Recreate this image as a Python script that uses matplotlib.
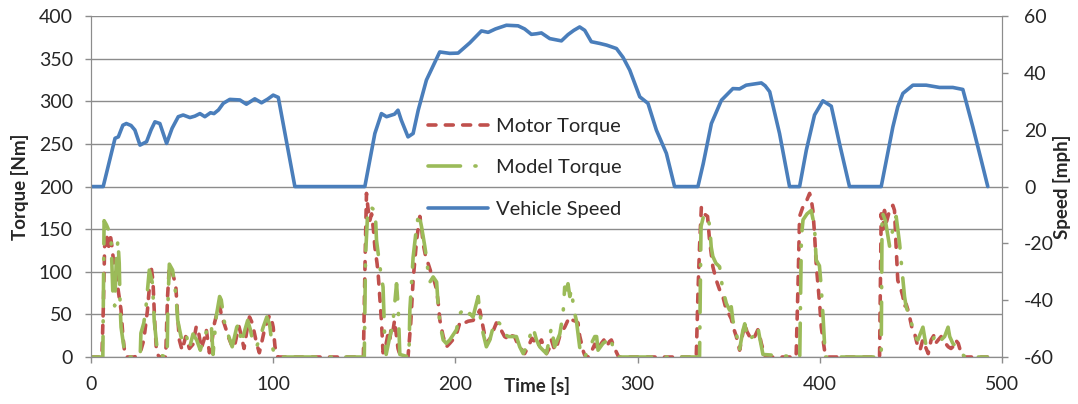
import matplotlib.pyplot as plt

# vehicle speed trace [mph]
speed_t = [0, 6.7, 13.2, 15, 17.5, 19.4, 22, 24.1, 26.9, 30.5, 33, 35.1, 37.8, 41.5, 44.5,
           47.9, 50.6, 54.3, 57, 59.8, 62.5, 65.6, 67.5, 70, 72.6, 76.2, 81.7, 85.3, 89.9,
           93.6, 97, 100, 102.8, 111.9, 150.3, 155.8, 159.4, 162.2, 166.6, 168.5, 170.3,
           174, 176.8, 179.6, 184.1, 191.4, 196.9, 201.5, 207.9, 214.3, 218, 222, 228,
           234.4, 238, 241.7, 244.5, 247.2, 251.8, 258.2, 261.8, 265, 268.2, 271, 274.6,
           279.2, 283, 288.4, 292, 295.7, 301.2, 305.7, 310.3, 315.8, 320.3, 333.1, 336,
           340.5, 346, 352.3, 356, 359.6, 367.9, 370, 372.5, 377.9, 383.4, 388.9, 392.6,
           397.1, 401.7, 406.3, 410.8, 416.3, 433.7, 440.1, 442.8, 445.6, 451.1, 458.4,
           465.7, 473, 478.5, 484, 488.6, 492.2]
speed_mph = [0, 0, 17, 17.5, 21.6, 22.2, 21.5, 19.9, 14.6, 15.8, 20, 22.8, 22.2, 15.2, 20.5,
             24.6, 25.2, 24.3, 24.8, 25.7, 24.6, 26, 25.7, 27, 29.3, 30.7, 30.5, 29, 30.9,
             29.5, 30.8, 32.2, 31.4, 0, 0, 18.7, 25.7, 24.6, 25.5, 26.9, 23.4,
             17.5, 18.7, 26.9, 37.5, 47.4, 46.9, 47, 50.6, 54.8, 54.3, 55.5, 56.8,
             56.6, 55.5, 53.6, 53.8, 54.1, 52.1, 51.3, 53.5, 55, 56.2, 55, 51,
             50.4, 49.8, 48.6, 45.5, 41, 31.6, 29.3, 19.9, 11.7, 0, 0, 8,
             22.2, 30.4, 34.5, 34.4, 35.7, 36.5, 35.5, 33.4, 18.7, 0, 0, 12.8,
             25.2, 30.2, 28.3, 15.2, 0, 0, 21, 28.1, 32.8, 35.7, 35.7,
             34.9, 34.9, 34.2, 21, 9.3, 0]

# measured motor torque [Nm]
motor_t = [0, 6, 6.8, 7.5, 8.5, 9.5, 10.5, 11.5, 12.5, 13.5, 14.5, 15.5, 16.5, 17.5, 18.5, 19.5, 24,
           27, 29, 31, 33, 34, 35, 36, 37.5, 41,
           42, 43, 44.5, 46.5, 47.5, 48.5, 50, 52, 54, 56, 57.8, 59, 60.5, 62, 63.3, 65, 66.5, 67.8,
           69, 70.6, 72, 73, 75.7, 77, 78.5, 80, 81.2, 82.5, 84, 85.5, 87, 88.5, 89.7, 91, 92.4, 94,
           95.2, 96.5, 98, 99, 100, 101, 102.5, 149.5,
           150.5, 151.2, 152, 153, 154, 155, 155.8, 157, 157.6, 158.5, 159.4, 160.3, 161.5, 163,
           164, 164.8, 165.7, 166.6, 167.7, 168.5, 169.5, 171, 174,
           175.5, 176.8, 178.7, 180.5, 181.5, 182.3, 183.5, 185, 186.5, 187.8, 189.7, 190.6, 191.5,
           193.3, 195.1, 196.9, 198.5, 200.6, 202.4, 204.2, 205, 207, 209.7, 211.5, 213.4, 215.2,
           217, 219.8, 221, 222.5, 224, 225.5, 227, 228.5, 229.8, 231, 232.5, 234, 235.3, 236.7,
           238, 239.5, 240.8, 242, 243.5, 245, 247.2, 248.5, 250, 251.5, 252.7, 254.5, 256, 257.3,
           258.5, 260, 261.5, 262.8, 264.6, 266, 267.3, 268.2, 269.2, 270, 271, 273, 275, 276.5,
           278, 280.1, 281.5, 283, 284.5, 285.6, 287, 288.5, 289.6, 332.2,
           333.2, 334, 335, 336.5, 338.4, 339.5, 340.5, 341.3, 343.2, 345, 346.8, 348.7, 350,
           351.4, 352.5, 354.2, 356, 357.5, 358.8, 360, 361.5, 363, 364.5, 366, 367, 367.9, 369,
           369.7, 371, 387,
           388, 388.9, 390.7, 392.5, 394.4, 395.3, 396.2, 397.1, 398, 399, 400, 400.8, 402.6, 404,
           432.8,
           433.3, 433.7, 434.6, 435.5, 436.4, 437.4, 438.3, 439.2, 440.1, 441, 441.9, 442.8, 444,
           444.6, 445.6, 446.5, 447.4, 448.4, 449.5, 450.5, 452, 453.8, 455, 456.5, 458, 459.5,
           461.1, 462.5, 463.5, 465, 466.6, 468, 469, 470.5, 472, 473, 474.5, 476, 477.6, 479, 492]
motor_nm = [0, 0, 60, 130, 145, 125, 145, 130, 110, 100, 85, 70, 55, 25, 5, 0, 0,
            5, 20, 55, 106, 90, 40, 5, 0, 0,
            70, 106, 100, 85, 50, 20, 8, 24, 10, 15, 36, 30, 10, 20, 32, 5, 20, 40,
            50, 60, 45, 40, 22, 15, 10, 25, 36, 25, 10, 30, 47, 40, 28, 15, 5, 20,
            32, 40, 49, 45, 35, 12, 0, 0,
            120, 192, 175, 160, 168, 150, 129, 110, 98, 70, 43, 5, 10, 27,
            20, 35, 30, 43, 24, 10, 3, 0, 0,
            40, 90, 137, 165, 150, 133, 120, 110, 100, 94, 79, 63, 43,
            24, 12, 16, 20, 27, 40, 42, 40, 42, 43, 48, 55, 35,
            16, 24, 32, 40, 38, 30, 24, 22, 27, 25, 24, 16, 12, 8,
            4, 10, 16, 22, 18, 12, 20, 12, 4, 10, 20, 8, 15, 25,
            30, 35, 42, 47, 43, 42, 40, 25, 16, 8, 2, 0, 8, 15,
            8, 16, 20, 12, 18, 20, 12, 5, 0, 0,
            80, 129, 176, 168, 165, 137, 120, 106, 90, 79, 71, 55, 51,
            45, 35, 24, 8, 25, 39, 30, 24, 20, 25, 32, 25, 16, 8,
            2, 0, 0,
            80, 165, 176, 182, 192, 185, 172, 145, 110, 85, 60, 35, 8, 0,
            0,
            90, 168, 150, 172, 157, 165, 172, 176, 178, 172, 129, 90, 82,
            79, 71, 59, 62, 55, 45, 35, 28, 12, 8, 20, 12, 4,
            20, 25, 16, 20, 24, 20, 16, 12, 10, 12, 20, 16, 4, 0, 0]

# simulated model torque [Nm]
model_t = [0, 6.5, 7.2, 8.5, 9.5, 11, 12, 13, 14, 14.8, 15.5, 16, 16.5, 17.5, 18.5, 19.5, 27,
           27.4, 29, 30.2, 32, 33.8, 34.7, 35.6, 36.6, 41.8,
           42.2, 43, 44.8, 46.7, 47.6, 49.4, 51, 52.5, 54, 56, 58, 60, 62, 63.5, 66, 67, 68.7,
           70.6, 71.5, 73, 75, 77.5, 80, 81.2, 82.5, 84.5, 86, 87.5, 89, 90.8, 92.5, 94.5, 96.5,
           98, 99.5, 100.5, 102, 150,
           150.7, 152, 154, 156, 156.7, 158.5, 159.4, 160.3, 161.2, 162, 164, 165.5, 167.7, 168.6,
           169.5, 174.5,
           175, 176.8, 178.7, 179.9, 181.4, 183.2, 184.1, 185, 186, 187.8, 189.7, 190.6, 191.5,
           193.3, 195, 196.9, 200.6, 202.4, 204.2, 206, 207.9, 209.7, 210.6, 212.5, 213.4, 215.2,
           217, 218.9, 220.7, 222.5, 224.4, 226.2, 229, 231.7, 233.5, 235.3, 237.2, 239, 240.8,
           242.6, 244.5, 246.3, 248.1, 250, 251.8, 252.7, 254.5, 257.3, 259.1, 260, 261, 261.8,
           262.8, 263.7, 264.6, 265.5, 266.4, 267.3, 268.2, 269.2, 271, 276.5, 277.5, 278.3, 281,
           283.8, 284.7, 286.5, 289.6, 334,
           334.8, 336.5, 338.9, 339.6, 340.4, 341.3, 343, 345, 346, 346.8, 348.7, 350.5, 351.4,
           352.3, 354.2, 355.9, 357.7, 358.8, 360.6, 363.3, 366, 366.9, 368.8, 389,
           389.9, 390.8, 393, 395.3, 397.1, 398, 399.8, 400.8, 401.3, 401.8, 403, 433.7,
           434.2, 436, 438.3, 440.1, 441.9, 443.8, 444.6, 446.5, 447.4, 449.2, 451, 452, 453.8,
           456.6, 458.4, 460.2, 462, 464, 466.6, 468.5, 470.4, 471.3, 473, 475, 477.6, 480, 492]
model_nm = [0, 0, 160, 155, 150, 140, 75, 60, 120, 137, 110, 60, 35, 20, 5, 0, 0,
            28, 40, 59, 102, 86, 43, 24, 3, 0,
            60, 109, 102, 71, 43, 24, 16, 24, 10, 27, 20, 8, 24, 30, 39, 3, 47,
            71, 67, 43, 28, 12, 35, 39, 16, 32, 43, 32, 16, 12, 20, 35, 47,
            39, 12, 5, 0, 0,
            120, 175, 175, 172, 137, 107, 94, 82, 23, 3, 24, 35, 86, 59,
            3, 0,
            55, 117, 153, 169, 153, 130, 117, 100, 88, 94, 88, 59, 39,
            20, 16, 20, 32, 51, 55, 47, 51, 47, 55, 71, 51, 28,
            12, 20, 35, 43, 39, 28, 24, 24, 24, 12, 4, 12, 24,
            35, 20, 12, 8, 4, 24, 35, 12, 27, 51, 82, 79, 86,
            71, 79, 63, 51, 43, 27, 12, 0, 0, 24, 24, 8, 16,
            20, 24, 12, 0, 0,
            153, 168, 161, 153, 129, 118, 110, 106, 90, 79, 63, 55, 59,
            43, 28, 8, 30, 39, 20, 24, 35, 24, 3, 0,
            141, 161, 168, 172, 153, 114, 107, 82, 63, 47, 0, 0,
            170, 160, 130, 150, 165, 133, 114, 71, 59, 47, 35, 24, 20,
            35, 12, 16, 20, 28, 20, 24, 35, 24, 16, 12, 4, 0, 0]

plt.rcParams['font.family'] = ['Lato', 'DejaVu Sans']
plt.rcParams['axes.unicode_minus'] = False
txt = '#262626'
grid = '#8c8c8c'

fig = plt.figure(figsize=(10.78, 4.04), dpi=100)
ax = fig.add_axes([0.0844, 0.1163, 0.8451, 0.8437])
ax2 = ax.twinx()

l1, = ax.plot(motor_t, motor_nm, color='#C0504D', lw=2.6,
              linestyle=(0, (2.2, 2.6)), dash_capstyle='round', label='Motor Torque')
l2, = ax.plot(model_t, model_nm, color='#9BBB59', lw=2.6,
              linestyle=(0, (9, 4, 0.3, 4)), dash_capstyle='round', label='Model Torque')
l3, = ax2.plot(speed_t, speed_mph, color='#4A7EBB', lw=2.6,
               solid_capstyle='round', solid_joinstyle='round', label='Vehicle Speed')

ax.set_xlim(0, 500)
ax.set_ylim(0, 400)
ax2.set_ylim(-60, 60)
ax.set_xticks(range(0, 501, 100))
ax.set_yticks(range(0, 401, 50))
ax2.set_yticks(range(-60, 61, 20))

ax.yaxis.grid(True, color=grid, lw=1)
ax.set_axisbelow(True)
for a in (ax, ax2):
    for s in a.spines.values():
        s.set_color(grid)
    a.spines['top'].set_visible(False)
    a.tick_params(colors=grid, labelcolor=txt, labelsize=14, length=4, width=1)
ax.tick_params(axis='y', pad=9)
ax.tick_params(axis='x', pad=10)
ax2.tick_params(axis='y', pad=12)

ax.set_ylabel('Torque [Nm]', fontsize=13.5, fontweight='bold', color=txt)
ax2.set_ylabel('Speed [mph]', fontsize=13.5, fontweight='bold', color=txt, rotation=90)
ax.set_xlabel('Time [s]', fontsize=13.5, fontweight='bold', color=txt)
ax.xaxis.label.set_va('center')
ax.xaxis.set_label_coords(0.49, -0.085)
ax.yaxis.set_label_coords(-0.068, 0.5)
ax2.yaxis.set_label_coords(1.056, 0.5)

leg = ax2.legend(handles=[l1, l2, l3], loc='center left', bbox_to_anchor=(0.363, 0.555),
                 frameon=False, fontsize=14.5, handlelength=3.0, handletextpad=0.4,
                 labelspacing=1.2, borderpad=0.3, borderaxespad=0)
for t in leg.get_texts():
    t.set_color(txt)

fig.savefig('out.png', dpi=100)
